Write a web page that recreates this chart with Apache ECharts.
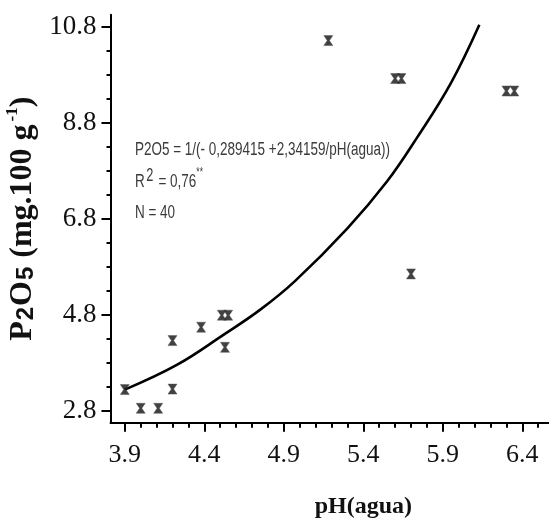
<!DOCTYPE html>
<html>
<head>
<meta charset="utf-8">
<script src="https://cdn.jsdelivr.net/npm/echarts@6/dist/echarts.min.js"></script>
<style>html,body{margin:0;padding:0;background:#fff}#c{width:549px;height:519px}</style>
</head>
<body>
<div id="c"></div>
<script>
// Observed points (pH, P2O5)
const phValues   = [3.90, 4.00, 4.11, 4.20, 4.20, 4.38, 4.51, 4.55, 4.53, 5.18, 5.60, 5.64, 5.70, 6.30, 6.35];
const p2o5Values = [3.24, 2.85, 2.85, 3.25, 4.26, 4.54, 4.79, 4.79, 4.12, 10.51, 9.72, 9.72, 5.65, 9.46, 9.46];
// Fitted curve
const curveX = [3.90, 4.23, 4.52, 4.75, 4.97, 5.30, 5.55, 5.74, 5.95, 6.13];
const curveY = [3.24, 3.76, 4.38, 4.90, 5.50, 6.60, 7.58, 8.50, 9.62, 10.84];
// Tick labels
const xMajorTicks = [3.9, 4.4, 4.9, 5.4, 5.9, 6.4];
const xMinorTicks = [3.9,4.0,4.1,4.2,4.3,4.4,4.5,4.6,4.7,4.8,4.9,5.0,5.1,5.2,5.3,5.4,5.5,5.6,5.7,5.8,5.9,6.0,6.1,6.2,6.3,6.4,6.5];
const yMajorTicks = [2.8, 4.8, 6.8, 8.8, 10.8];
const yMinorTicks = [2.8,3.3,3.8,4.3,4.8,5.3,5.8,6.3,6.8,7.3,7.8,8.3,8.8,9.3,9.8,10.3,10.8];

const chart = echarts.init(document.getElementById('c'));
const serif = 'Liberation Serif, Times New Roman, serif';
const sans = 'Liberation Sans, Arial, sans-serif';
const X_MIN = 3.81, X_MAX = 6.6, Y_MIN = 2.55, Y_MAX = 11.05;

const scatterData = phValues.map((v, i) => [v, p2o5Values[i]]);
const curveData = curveX.map((v, i) => [v, curveY[i]]);

chart.setOption({
  animation: false,
  backgroundColor: '#fff',
  grid: { left: 110.5, top: 14.7, width: 443.6, height: 408, containLabel: false, outerBoundsMode: 'none' },
  xAxis: [{
    type: 'value', min: X_MIN, max: X_MAX,
    axisLine: { show: true, lineStyle: { color: '#000', width: 2 } },
    axisTick: { show: true, length: 9, lineStyle: { color: '#000', width: 2 }, customValues: xMajorTicks },
    axisLabel: { customValues: xMajorTicks, formatter: v => v.toFixed(1), color: '#111', fontFamily: serif, fontSize: 26, margin: 19 },
    splitLine: { show: false },
    name: 'pH(agua)', nameLocation: 'middle', nameGap: 72,
    nameTextStyle: { fontFamily: serif, fontWeight: 'bold', fontSize: 24, color: '#111', padding: [0, 0, 0, 62] }
  }, {
    type: 'value', min: X_MIN, max: X_MAX, position: 'bottom',
    axisLine: { show: false },
    axisTick: { show: true, length: 5, lineStyle: { color: '#000', width: 2 }, customValues: xMinorTicks },
    axisLabel: { show: false }, splitLine: { show: false }
  }],
  yAxis: [{
    type: 'value', min: Y_MIN, max: Y_MAX,
    axisLine: { show: true, lineStyle: { color: '#000', width: 2 } },
    axisTick: { show: true, length: 9, lineStyle: { color: '#000', width: 2 }, customValues: yMajorTicks },
    axisLabel: { customValues: yMajorTicks, formatter: v => v.toFixed(1), color: '#111', fontFamily: serif, fontSize: 27, margin: 14 },
    splitLine: { show: false },
    name: '{b|P}{s|2}{b|O}{s|5}{b| (mg.100 g}{p|-1}{b|)}', nameLocation: 'middle', nameGap: 72, nameRotate: 90,
    nameTextStyle: {
      rich: {
        b: { fontFamily: serif, fontWeight: 'bold', fontSize: 32, color: '#111', verticalAlign: 'bottom', lineHeight: 34 },
        s: { fontFamily: sans, fontWeight: 'bold', fontSize: 24, color: '#111', verticalAlign: 'bottom', lineHeight: 26, padding: [8, 1, 0, 1] },
        p: { fontFamily: serif, fontWeight: 'bold', fontSize: 17, color: '#111', verticalAlign: 'top', lineHeight: 34, padding: [0, 0, 14, 3] }
      }
    }
  }, {
    type: 'value', min: Y_MIN, max: Y_MAX, position: 'left',
    axisLine: { show: false },
    axisTick: { show: true, length: 4, lineStyle: { color: '#000', width: 2 }, customValues: yMinorTicks },
    axisLabel: { show: false }, splitLine: { show: false }
  }],
  graphic: [
    { type: 'text', x: 135, y: 140, scaleX: 0.71,
      style: { text: 'P2O5 = 1/(- 0,289415 +2,34159/pH(agua))', font: '19px ' + sans, fill: '#3a3a3a' } },
    { type: 'text', x: 135, y: 167, scaleX: 0.71,
      style: { text: '{a|R}{sp|2}{a| = 0,76}{st|**}', fill: '#3a3a3a',
        rich: {
          a: { font: '19px ' + sans, fill: '#3a3a3a', verticalAlign: 'bottom', lineHeight: 24 },
          sp: { font: '18px ' + sans, fill: '#3a3a3a', verticalAlign: 'top', lineHeight: 24, padding: [0, 2, 6, 2] },
          st: { font: '12px ' + sans, fill: '#3a3a3a', verticalAlign: 'top', lineHeight: 24, padding: [0, 0, 10, 0] }
        } } },
    { type: 'text', x: 135, y: 203, scaleX: 0.71,
      style: { text: 'N = 40', font: '19px ' + sans, fill: '#3a3a3a' } }
  ],
  series: [{
    type: 'line', data: curveData, smooth: 0.4, showSymbol: false, symbol: 'none',
    lineStyle: { color: '#000', width: 2.6 }, z: 2
  }, {
    type: 'scatter', data: scatterData,
    symbol: 'path://M0,0 L8,0 L5,4.5 L8,9 L0,9 L3,4.5 Z', symbolSize: [9, 10],
    itemStyle: { color: '#111', borderColor: '#555', borderWidth: 0.6 }, z: 3
  }]
});
</script>
</body>
</html>
